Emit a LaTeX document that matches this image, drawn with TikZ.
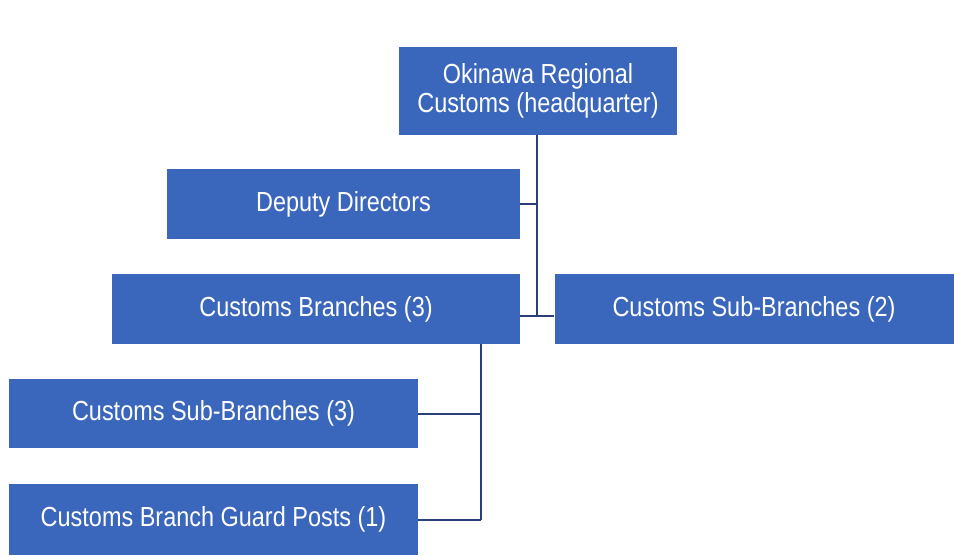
\documentclass[tikz,border=0pt]{standalone}
\usepackage{fontspec}
\setmainfont[FakeStretch=0.85]{Liberation Sans}
\definecolor{boxblue}{RGB}{58,102,188}
\definecolor{linenavy}{RGB}{42,62,122}
\begin{document}
\begin{tikzpicture}[x=1pt,y=-1pt,
  unit/.style={rectangle, fill=boxblue, text=white, inner sep=0pt,
    font=\fontsize{27.6}{29}\selectfont, align=center},
  link/.style={draw=linenavy, line width=2pt}]
\useasboundingbox (0,0) rectangle (954,555);
% boxes
\node[unit, minimum width=278pt, minimum height=88pt] (hq) at (538,91) {Okinawa Regional\\Customs (headquarter)};
\node[unit, minimum width=353pt, minimum height=70pt] (deputy) at (343.5,204) {Deputy Directors};
\node[unit, minimum width=408pt, minimum height=70pt] (branches) at (316,309) {Customs Branches (3)};
\node[unit, minimum width=399pt, minimum height=70pt] (subtwo) at (754,309) {Customs Sub-Branches (2)};
\node[unit, minimum width=409pt, minimum height=69pt] (subthree) at (213.5,413.5) {Customs Sub-Branches (3)};
\node[unit, minimum width=409pt, minimum height=71pt] (guard) at (213.5,519.5) {Customs Branch Guard Posts (1)};
% connectors
\coordinate (hqjoin) at (537,316);
\coordinate (brjoin) at (481,519.5);
\draw[link] (hq.south -| hqjoin) -- (hqjoin);
\draw[link] (deputy.east) -- (deputy.east -| hqjoin);
\draw[link] (branches.east |- hqjoin) -- (subtwo.west |- hqjoin);
\draw[link] (branches.south -| brjoin) -- (brjoin);
\draw[link] (subthree.east) -- (subthree.east -| brjoin);
\draw[link] (guard.east) -- (brjoin);
\end{tikzpicture}
\end{document}
